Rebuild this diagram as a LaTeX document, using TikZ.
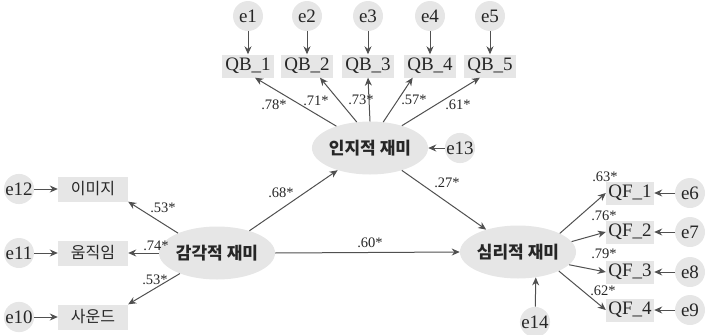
\documentclass[tikz,border=0pt]{standalone}
\usepackage{fontspec}
\setmainfont{Liberation Serif}
\newfontfamily\kr{Noto Sans CJK KR}
\usetikzlibrary{arrows.meta,shapes.geometric}
\definecolor{gfill}{HTML}{E6E6E6}
\definecolor{lc}{HTML}{505050}
\definecolor{tc}{HTML}{262626}
\begin{document}
\begin{tikzpicture}[x=1pt,y=-1pt,
  lat/.style={ellipse, fill=gfill, minimum width=94pt, minimum height=53pt, inner sep=0pt, text=tc, font=\kr\bfseries\fontsize{17}{17}\selectfont},
  obs/.style={rectangle, fill=gfill, minimum width=52pt, minimum height=23pt, inner sep=0pt, text=tc, font=\fontsize{19}{19}\selectfont},
  kobs/.style={rectangle, fill=gfill, minimum width=70pt, minimum height=25pt, inner sep=0pt, text=tc, font=\kr\fontsize{16}{16}\selectfont},
  err/.style={circle, fill=gfill, minimum size=30pt, inner sep=0pt, text=tc, font=\fontsize{19}{19}\selectfont},
  arr/.style={draw=lc, line width=1pt, -{Stealth[length=8pt,width=7pt]}},
  coef/.style={inner sep=0pt, text=tc, font=\fontsize{14.5}{14.5}\selectfont}]
\useasboundingbox (0,0) rectangle (705,335);

% latent variables
\node[lat] (cog) at (370,148) {인지적 재미};
\node[lat] (sen) at (217,253) {감각적 재미};
\node[lat] (psy) at (518,252) {심리적 재미};

% QB indicators and errors
\foreach \i/\x in {1/248,2/307,3/368,4/430,5/490}{
  \node[obs] (qb\i) at (\x,66) {QB\_\i};
  \node[err] (e\i) at (\x,16) {e\i};
  \draw[arr] (e\i) -- (qb\i);
}

% QF indicators and errors
\foreach \i/\y/\e in {1/193/6,2/232/7,3/272/8,4/310/9}{
  \node[obs, minimum width=48pt] (qf\i) at (630,\y) {QF\_\i};
  \node[err] (e\e) at (690,\y) {e\e};
  \draw[arr] (e\e) -- (qf\i);
}

% Korean indicators
\node[kobs] (img) at (93,189) {이미지};
\node[kobs] (mov) at (93,253) {움직임};
\node[kobs] (snd) at (93,317) {사운드};
\node[err] (e12) at (19,189) {e12};
\node[err] (e11) at (19,253) {e11};
\node[err] (e10) at (19,317) {e10};
\draw[arr] (e12) -- (img);
\draw[arr] (e11) -- (mov);
\draw[arr] (e10) -- (snd);

% disturbance terms
\node[err] (e13) at (460,148) {e13};
\node[err] (e14) at (535,322) {e14};
\draw[arr] (e13) -- (cog);
\draw[arr] (e14) -- (psy.-55.5);

% loadings of cog
\draw[arr] (cog.147) -- (qb1.-59);
\draw[arr] (cog.117) -- (qb2.-42);
\draw[arr] (cog.90) -- (qb3.south);
\draw[arr] (cog.63) -- (qb4.-146);
\draw[arr] (cog.35) -- (qb5.-131);

% loadings of sen
\draw[arr] (sen.153) -- (img.south east);
\draw[arr] (sen) -- (mov);
\draw[arr] (sen.-151) -- (snd.north east);

% loadings of psy
\draw[arr] (psy.24) -- (qf1.west);
\draw[arr] (psy.11) -- (qf2.west);
\draw[arr] (psy.-14) -- (qf3.west);
\draw[arr] (psy.-25) -- (qf4.west);

% structural paths
\draw[arr] (sen) -- (cog);
\draw[arr] (cog) -- (psy);
\draw[arr] (sen.east) -- (psy.west);

% coefficients
\node[coef] (c1) at (274,105) {.78*};
\node[coef] (c2) at (316,101) {.71*};
\node[coef] (c3) at (361,100) {.73*};
\node[coef] (c4) at (414,100) {.57*};
\node[coef] (c5) at (458,105) {.61*};
\node[coef] (c6) at (281,193) {.68*};
\node[coef] (c7) at (447,183) {.27*};
\node[coef] (c8) at (370,243) {.60*};
\node[coef] (c9) at (163,208) {.53*};
\node[coef] (c10) at (156,246) {.74*};
\node[coef] (c11) at (155,280) {.53*};
\node[coef] (c12) at (605,177) {.63*};
\node[coef] (c13) at (604,216) {.76*};
\node[coef] (c14) at (604,254) {.79*};
\node[coef] (c15) at (603,291) {.62*};
\end{tikzpicture}
\end{document}
